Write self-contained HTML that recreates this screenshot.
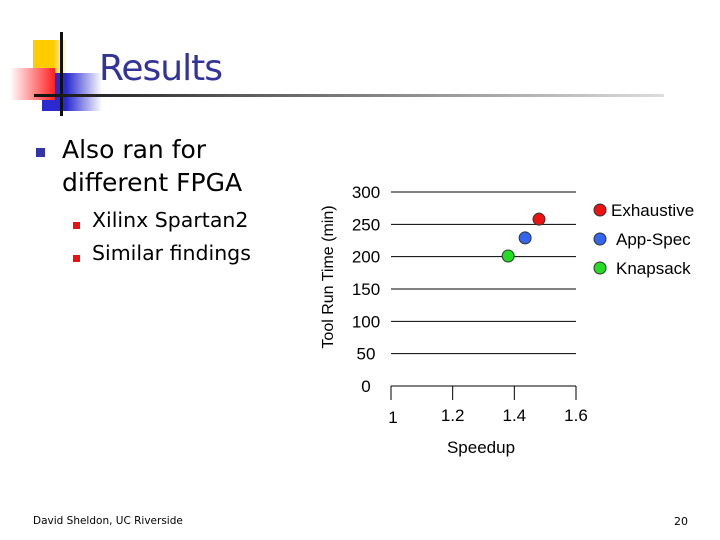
<!DOCTYPE html>
<html><head><meta charset="utf-8"><style>
body{margin:0;background:#fff}
#slide{position:relative;width:720px;height:540px;overflow:hidden;font-family:"DejaVu Sans","Liberation Sans",sans-serif}
.abs{position:absolute;margin:0}
</style></head><body>
<div id="slide">
<div class="abs" style="left:33px;top:40px;width:34px;height:38px;background:linear-gradient(90deg,#ffcc00 60%,#fff)"></div>
<div class="abs" style="left:42px;top:73px;width:60px;height:38px;background:linear-gradient(90deg,#2a2ad0 40%,#fff)"></div>
<div class="abs" style="left:10px;top:68px;width:45px;height:32px;background:linear-gradient(90deg,#fff,#ff2020)"></div>
<div class="abs" style="left:60px;top:32px;width:3px;height:84px;background:#111"></div>
<div class="abs" style="left:34px;top:94px;width:630px;height:3px;background:linear-gradient(90deg,#111,#555 30%,#ddd)"></div>
<div class="abs" style="left:99px;top:48px;font-size:36px;color:#333399;font-family:'DejaVu Sans',sans-serif;letter-spacing:-1px">Results</div>
<div class="abs" style="left:36px;top:148px;width:9px;height:9px;background:#3333aa"></div>
<div class="abs" style="left:62px;top:133px;font-size:25px;line-height:33px;color:#000">Also ran for<br>different FPGA</div>
<div class="abs" style="left:73px;top:222px;width:7px;height:7px;background:#ee1111"></div>
<div class="abs" style="left:92px;top:208px;font-size:20.5px;color:#000">Xilinx Spartan2</div>
<div class="abs" style="left:73px;top:255px;width:7px;height:7px;background:#ee1111"></div>
<div class="abs" style="left:92px;top:241px;font-size:20.5px;color:#000">Similar findings</div>
<div class="abs" style="left:33px;top:515px;font-size:10.5px;color:#000">David Sheldon, UC Riverside</div>
<div class="abs" style="left:674px;top:515px;font-size:11px;color:#000">20</div>
<svg class="abs" style="left:0;top:0" width="720" height="540" font-family="Liberation Sans, Arial, sans-serif">
<g id="g"></g>
</svg>
</div>
<script>
const yTicks=[0,50,100,150,200,250,300];
const xTicks=[1,1.2,1.4,1.6];
const xTickLabels=["1","1.2","1.4","1.6"];
const seriesNames=["Exhaustive","App-Spec","Knapsack"];
const seriesColors=["#ee1111","#3366ee","#22dd22"];
const speedups=[1.48,1.435,1.38];
const runTimes=[258,229,201];
const X0=391,X1=576,Y0=386,Y1=192;
function sx(v){return X0+(v-1)/(0.6)*(X1-X0);}
function sy(v){return Y0-v/300*(Y0-Y1);}
const g=document.getElementById('g');
const NS='http://www.w3.org/2000/svg';
function mk(t,a){const e=document.createElementNS(NS,t);for(const k in a)e.setAttribute(k,a[k]);g.appendChild(e);return e;}
yTicks.forEach(v=>{
 const l=mk('line',{x1:X0,x2:X1,y1:sy(v),y2:sy(v),stroke:'#000','stroke-width':1});
 
 
 const t=mk('text',{x:366,y:sy(v)+6,'text-anchor':'middle','font-size':17});
 t.textContent=v;
 
 
});
xTicks.forEach((v,i)=>{
 const l=mk('line',{x1:sx(v),x2:sx(v),y1:Y0,y2:Y0+14,stroke:'#000','stroke-width':1});
 
 
 const t=mk('text',{x:sx(v)+(i==0?2:0),y:i==0?423:421,'text-anchor':'middle','font-size':17});
 t.textContent=xTickLabels[i];
 
 
});
speedups.forEach((v,i)=>{
 const c=mk('circle',{cx:sx(v),cy:sy(runTimes[i]),r:6,fill:seriesColors[i],stroke:'#333','stroke-width':1});
 
 
 const m=mk('circle',{cx:600,cy:210+i*29,r:6,fill:seriesColors[i],stroke:'#333','stroke-width':1});
 
 
 const t=mk('text',{x:i==0?611:616,y:216+i*29,'font-size':17});
 t.textContent=seriesNames[i];
 
 
});
const xt=mk('text',{x:481,y:453,'text-anchor':'middle','font-size':17});
xt.textContent='Speedup';


const yt=mk('text',{x:333,y:277,'text-anchor':'middle','font-size':16,transform:'rotate(-90 333 277)'});
yt.textContent='Tool Run Time (min)';


</script>
</body></html>
